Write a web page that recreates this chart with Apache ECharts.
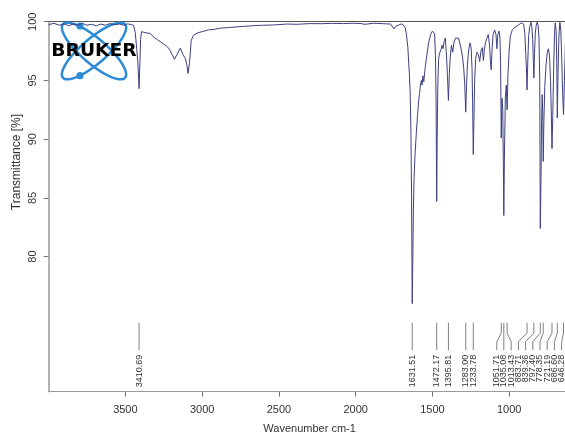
<!DOCTYPE html>
<html>
<head>
<meta charset="utf-8">
<script src="https://cdn.jsdelivr.net/npm/echarts@6/dist/echarts.min.js"></script>
<style>
  html, body { margin: 0; padding: 0; background: #ffffff; }
  #chart { width: 565px; height: 435px; }
</style>
</head>
<body>
<div id="chart"></div>
<script>
// FT-IR spectrum: transmittance [%] against wavenumber [cm-1]
const wavenumbers = [
  4000, 3965, 3930, 3900, 3870, 3840, 3810, 3780, 3750, 3720, 3690, 3660, 3630, 3600, 3570, 3540, 3510, 3485, 3462, 3447,
  3436, 3426, 3418, 3410.69, 3405, 3401, 3394, 3384, 3364, 3338, 3317, 3295, 3273, 3250, 3229, 3210, 3196, 3180, 3164, 3142,
  3125, 3110, 3099, 3092, 3082, 3071, 3056, 3030, 3000, 2960, 2920, 2881, 2830, 2780, 2730, 2666, 2600, 2540, 2446, 2380,
  2300, 2229, 2150, 2080, 2013, 1960, 1945, 1935, 1925, 1883, 1820, 1772, 1760, 1750, 1740, 1728, 1700, 1688, 1680, 1670,
  1660, 1650, 1645, 1640, 1636, 1631.51, 1628, 1624, 1620, 1614, 1605, 1597, 1590, 1584, 1578, 1572, 1567, 1562, 1556, 1548,
  1538, 1525, 1512, 1500, 1493, 1486, 1480, 1476, 1472.17, 1469, 1465, 1460, 1454, 1445, 1437, 1431, 1424, 1416, 1408, 1402,
  1395.81, 1390, 1384, 1376, 1368, 1360, 1350, 1340, 1330, 1320, 1312, 1304, 1296, 1290, 1283.00, 1278, 1272, 1264, 1255, 1248,
  1242, 1238, 1233.78, 1230, 1225, 1218, 1210, 1200, 1192, 1184, 1175, 1168, 1162, 1155, 1145, 1136, 1128, 1122, 1117, 1112,
  1105, 1095, 1086, 1080, 1074, 1066, 1060, 1056, 1051.71, 1047, 1042, 1038, 1035.08, 1031, 1025, 1019, 1013.43, 1008, 1000, 992,
  980, 960, 940, 920, 906, 898, 892, 887, 883.71, 879, 873, 866, 858, 852, 847, 843, 839.36, 835, 830, 824,
  818, 812, 806, 801, 797.40, 793, 789, 785, 781, 778.35, 774, 768, 760, 752, 744, 737, 731, 726, 721.19, 716,
  710, 705, 700, 694, 690, 686.60, 682, 676, 670, 664, 658, 652, 646.28, 640, 634, 628, 620, 600
];
const transmittance = [
  99.75, 99.86, 99.70, 99.82, 99.66, 99.80, 99.72, 99.86, 99.70, 99.78, 99.65, 99.80, 99.70, 99.84, 99.74, 99.80, 99.70, 99.82, 99.75, 99.70,
  99.10, 97.70, 96.40, 94.30, 96.60, 98.50, 99.15, 99.10, 99.05, 99.00, 98.70, 98.50, 98.30, 98.10, 97.90, 97.60, 97.20, 96.80, 97.20, 97.75,
  97.20, 96.90, 96.30, 95.60, 96.50, 98.40, 98.85, 99.05, 99.15, 99.30, 99.35, 99.45, 99.50, 99.55, 99.60, 99.66, 99.70, 99.72, 99.80, 99.78,
  99.84, 99.83, 99.86, 99.84, 99.87, 99.84, 99.78, 99.62, 99.80, 99.87, 99.83, 99.80, 99.65, 99.38, 99.60, 99.72, 99.82, 99.80, 99.60, 99.00,
  97.80, 95.50, 94.00, 90.50, 85.50, 76.00, 79.50, 84.00, 86.50, 88.50, 90.50, 92.00, 93.20, 93.90, 94.60, 95.00, 94.60, 95.40, 94.90, 96.00,
  97.00, 98.20, 98.90, 99.20, 99.25, 99.00, 97.00, 93.00, 84.70, 90.00, 94.50, 96.80, 97.30, 97.60, 98.00, 97.70, 98.30, 98.60, 97.00, 95.40,
  93.30, 95.50, 97.00, 98.00, 97.40, 98.20, 98.60, 98.70, 98.60, 98.10, 97.60, 97.00, 96.00, 94.80, 92.30, 94.50, 96.30, 97.60, 98.20, 97.80,
  96.00, 93.00, 88.70, 91.50, 95.00, 96.90, 97.40, 97.20, 96.60, 97.50, 97.80, 96.70, 97.60, 98.20, 98.60, 98.90, 98.00, 96.60, 95.90, 97.50,
  98.90, 99.30, 98.90, 97.70, 98.90, 99.20, 98.60, 96.50, 90.10, 93.50, 92.60, 88.00, 83.50, 88.50, 93.50, 94.60, 92.50, 95.50, 97.60, 98.80,
  99.30, 99.55, 99.72, 99.90, 99.80, 99.00, 97.20, 95.80, 94.20, 96.50, 98.80, 99.60, 99.95, 99.50, 98.50, 96.80, 95.20, 97.30, 99.00, 99.70,
  99.95, 99.70, 98.70, 95.00, 82.40, 86.50, 91.50, 93.80, 92.00, 88.10, 91.50, 94.50, 96.30, 97.40, 97.70, 97.00, 95.00, 92.50, 89.20, 92.00,
  96.30, 98.80, 99.90, 99.20, 96.50, 91.80, 95.50, 98.80, 99.95, 99.30, 97.00, 94.00, 92.10, 95.00, 98.00, 99.50, 99.70, 99.80
];

// picked peaks (cm-1)
const peakWavenumbers = [3410.69, 1631.51, 1472.17, 1395.81, 1283.00, 1233.78, 1051.71, 1035.08, 1013.43,
  883.71, 839.36, 797.40, 778.35, 721.19, 686.60, 646.28];

const xTickValues = [3500, 3000, 2500, 2000, 1500, 1000];
const yTickValues = [80, 85, 90, 95, 100];

const FONT = '"Liberation Sans", Arial, sans-serif';
const AXIS_GREY = '#9a9a9a';

// Spread peak labels so that neighbouring columns never overlap,
// keeping each crowded group centred on its peaks and inside the axis range.
function peakLabelLayout(api, cs) {
  const gap = 7.2;
  const rightLimit = api.coord([600, 100])[0] - 9;
  const ideal = peakWavenumbers.map(w => api.coord([w, 100])[0]);
  const order = ideal.map((v, i) => i).sort((a, b) => ideal[a] - ideal[b]);
  const place = c => {
    const n = c.ids.length;
    let s = c.sum / n - (n - 1) * gap / 2;
    s = Math.min(s, rightLimit - (n - 1) * gap);
    s = Math.max(s, cs.x);
    c.start = s;
    c.end = s + (n - 1) * gap;
  };
  const clusters = order.map(i => ({ ids: [i], sum: ideal[i] }));
  clusters.forEach(place);
  let merged = true;
  while (merged) {
    merged = false;
    for (let k = 0; k < clusters.length - 1; k++) {
      const a = clusters[k], b = clusters[k + 1];
      if (a.end + gap > b.start + 1e-6) {
        const c = { ids: a.ids.concat(b.ids), sum: a.sum + b.sum };
        place(c);
        clusters.splice(k, 2, c);
        merged = true;
        break;
      }
    }
  }
  const pos = new Array(ideal.length);
  clusters.forEach(c => c.ids.forEach((id, j) => { pos[id] = c.start + j * gap; }));
  return { ideal, pos };
}

function renderPeakLabel(params, api) {
  const cs = params.coordSys;
  const lay = peakLabelLayout(api, cs);
  const i = params.dataIndex;
  const x0 = lay.ideal[i];
  const x1 = lay.pos[i];
  const bottom = cs.y + cs.height;
  const yTop = bottom - 69, yBend1 = bottom - 58.5, yBend2 = bottom - 50, yEnd = bottom - 41.5;
  const pts = Math.abs(x1 - x0) < 0.5
    ? [[x0, yTop], [x0, yEnd]]
    : [[x0, yTop], [x0, yBend1], [x1, yBend2], [x1, yEnd]];
  return {
    type: 'group',
    children: [
      { type: 'polyline', shape: { points: pts }, style: { stroke: '#808080', lineWidth: 1, fill: null } },
      {
        type: 'text', x: x1, y: yEnd + 4.5, rotation: Math.PI / 2,
        style: {
          text: peakWavenumbers[i].toFixed(2), align: 'right', verticalAlign: 'middle',
          font: '9px ' + FONT, fill: '#333333'
        }
      }
    ]
  };
}

// Bruker emblem: two crossed orbits with two electrons behind the word mark
function orbit(cx, cy, a, b, ang) {
  const pts = [];
  const c = Math.cos(ang), s = Math.sin(ang);
  for (let k = 0; k <= 72; k++) {
    const t = k / 72 * Math.PI * 2;
    const u = a * Math.cos(t), v = b * Math.sin(t);
    pts.push([cx + u * c - v * s, cy + u * s + v * c]);
  }
  return pts;
}
const LOGO_BLUE = '#2b8bd6';
const logoCx = 94, logoCy = 51;

const chart = echarts.init(document.getElementById('chart'), null, { renderer: 'canvas' });

chart.setOption({
  animation: false,
  backgroundColor: '#ffffff',
  grid: { left: 48.6, top: 21.7, right: -5.6, bottom: 43.3, containLabel: false, outerBoundsMode: 'none' },
  xAxis: [
    {
      type: 'value', position: 'bottom', inverse: true, min: 600, max: 4000,
      axisLine: { show: true, onZero: false, lineStyle: { color: AXIS_GREY, width: 1.2 } },
      axisTick: { show: true, length: 5, customValues: xTickValues, lineStyle: { color: '#777777' } },
      axisLabel: {
        customValues: xTickValues, margin: 13, fontSize: 11, color: '#333333', fontFamily: FONT,
        formatter: v => String(v)
      },
      splitLine: { show: false },
      name: 'Wavenumber cm-1', nameLocation: 'middle', nameGap: 32,
      nameTextStyle: { fontSize: 11, color: '#333333', fontFamily: FONT }
    },
    {
      type: 'value', position: 'top', inverse: true, min: 600, max: 4000,
      axisLine: { show: true, onZero: false, lineStyle: { color: '#555555', width: 1 } },
      axisTick: { show: false }, axisLabel: { show: false }, splitLine: { show: false }
    }
  ],
  yAxis: {
    type: 'value', min: 68.5, max: 100,
    axisLine: { show: true, onZero: false, lineStyle: { color: AXIS_GREY, width: 1.5 } },
    axisTick: { show: true, length: 5, customValues: yTickValues, lineStyle: { color: '#777777' } },
    axisLabel: {
      customValues: yTickValues, rotate: 90, margin: 10, fontSize: 11, color: '#333333', fontFamily: FONT,
      formatter: v => String(v)
    },
    splitLine: { show: false }
  },
  graphic: [
    {
      type: 'text', x: 17, y: 162, rotation: Math.PI / 2,
      style: { text: 'Transmittance [%]', align: 'center', verticalAlign: 'middle', font: '12px ' + FONT, fill: '#333333' }
    },
    { type: 'polyline', shape: { points: orbit(logoCx, logoCy, 41, 12.5, 0.71) }, style: { stroke: LOGO_BLUE, lineWidth: 2.5, fill: null }, z: 1 },
    { type: 'polyline', shape: { points: orbit(logoCx, logoCy, 41, 12.5, -0.71) }, style: { stroke: LOGO_BLUE, lineWidth: 2.5, fill: null }, z: 1 },
    { type: 'circle', shape: { cx: 80, cy: 26, r: 3.6 }, style: { fill: LOGO_BLUE }, z: 1 },
    { type: 'circle', shape: { cx: 80, cy: 75.7, r: 3.6 }, style: { fill: LOGO_BLUE }, z: 1 },
    {
      type: 'text', x: logoCx, y: logoCy + 0.5, scaleX: 1.1, z: 2,
      style: { text: 'BRUKER', align: 'center', verticalAlign: 'middle', font: 'bold 17px "DejaVu Sans", sans-serif', fill: '#000000' }
    }
  ],
  series: [
    {
      type: 'line', xAxisIndex: 0, yAxisIndex: 0,
      data: wavenumbers.map((w, i) => [w, transmittance[i]]),
      showSymbol: false, symbol: 'none', silent: true,
      lineStyle: { color: '#3d4080', width: 1 }, z: 3
    },
    {
      type: 'custom', xAxisIndex: 0, yAxisIndex: 0, silent: true, clip: false,
      data: peakWavenumbers.map(w => [w, 100]),
      renderItem: renderPeakLabel, z: 4
    }
  ]
});
</script>
</body>
</html>
